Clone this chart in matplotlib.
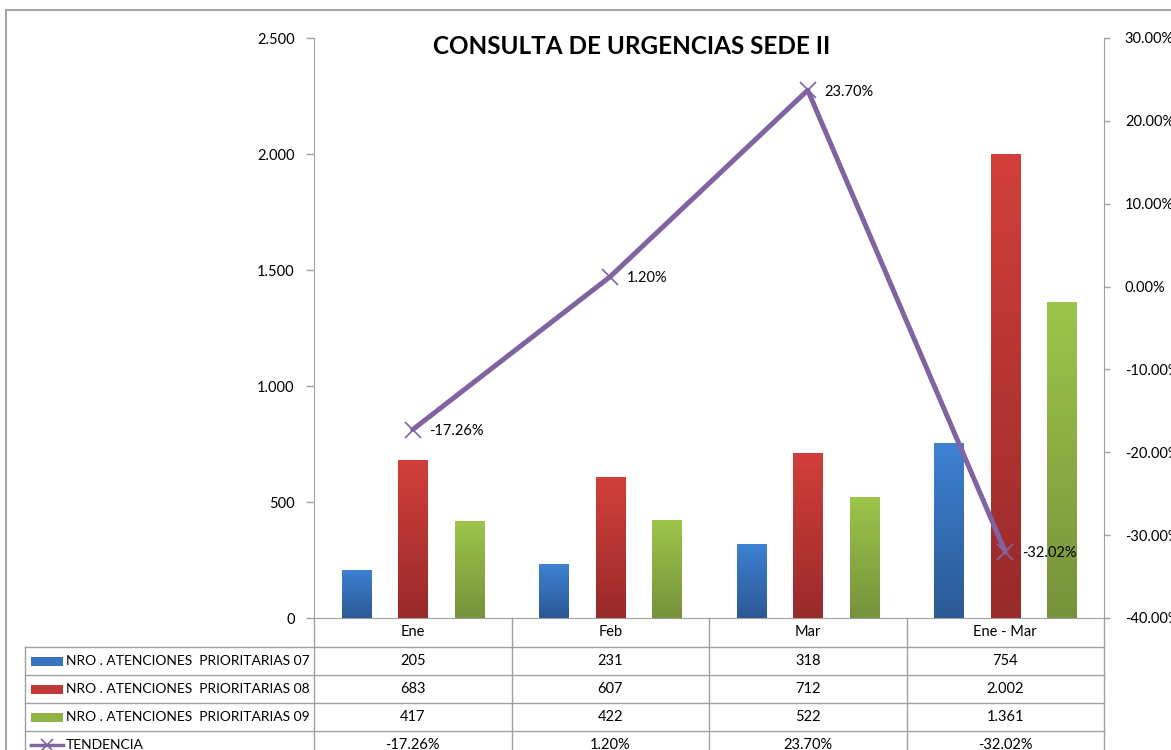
import matplotlib
matplotlib.use("Agg")
import matplotlib.pyplot as plt
import numpy as np
from matplotlib.colors import LinearSegmentedColormap
from matplotlib.transforms import blended_transform_factory
from matplotlib.lines import Line2D
from matplotlib.patches import Rectangle

plt.rcParams['font.family'] = ['Lato', 'DejaVu Sans']

# ---- data ----
categories = ["Ene", "Feb", "Mar", "Ene - Mar"]
series_names = ["NRO . ATENCIONES  PRIORITARIAS 07",
                "NRO . ATENCIONES  PRIORITARIAS 08",
                "NRO . ATENCIONES  PRIORITARIAS 09"]
prior07 = [205, 231, 318, 754]
prior08 = [683, 607, 712, 2002]
prior09 = [417, 422, 522, 1361]
tendencia = [-17.26, 1.20, 23.70, -32.02]
trend_name = "TENDENCIA"
left_ticks = [0, 500, 1000, 1500, 2000, 2500]
right_ticks = [-40, -30, -20, -10, 0, 10, 20, 30]
title = "CONSULTA DE URGENCIAS SEDE II"

# ---- styles ----
grad_colors = [("#2b5995", "#3e81d3"), ("#982a2a", "#d23f3b"), ("#76923b", "#9ec54b")]
key_colors = ["#3a72bd", "#bf3a37", "#8db444"]
line_color = "#8064a2"
grid_gray = "#a0a0a0"
W, H = 1171, 750
FS = 10.5

fig = plt.figure(figsize=(W / 100, H / 100), dpi=100)
ax = fig.add_axes([314 / W, 1 - 618 / H, 790 / W, 580 / H])
ax2 = ax.twinx()

def fmt_int(v):
    return f"{v:,}".replace(",", ".")

x = np.arange(len(categories))
offsets = [-0.286, 0.0, 0.286]
bw = 0.148
all_series = [prior07, prior08, prior09]
grad = np.linspace(0, 1, 256).reshape(-1, 1)
for vals, off, (c0, c1) in zip(all_series, offsets, grad_colors):
    cmap = LinearSegmentedColormap.from_list("g", [c0, c1])
    bars = ax.bar(x + off, vals, width=bw, color=c1, zorder=2, linewidth=0)
    for b in bars:
        x0, w, h = b.get_x(), b.get_width(), b.get_height()
        im = ax.imshow(grad, cmap=cmap, extent=[x0, x0 + w, 0, h], origin="lower",
                       aspect="auto", zorder=2.5)
        im.set_clip_path(b)

ax.set_xlim(-0.5, len(categories) - 0.5)
ax.set_ylim(0, 2500)
ax.set_yticks(left_ticks)
ax.set_yticklabels([fmt_int(v) for v in left_ticks])
ax.set_xticks([])
for s in ["top", "right"]:
    ax.spines[s].set_visible(False)
ax.spines["left"].set_color(grid_gray)
ax.spines["bottom"].set_color(grid_gray)
ax.tick_params(axis="y", colors=grid_gray, labelcolor="black", labelsize=FS,
               length=6, pad=8, width=1)

# trend line
ax2.plot(x, np.array(tendencia) / 100, color=line_color, lw=3.6, marker="x",
         markersize=11, markeredgewidth=1.2, zorder=5, solid_capstyle="round")
for xi, v in zip(x, tendencia):
    ax2.annotate(f"{v:.2f}%", (xi, v / 100), xytext=(12, -1), textcoords="offset points",
                 ha="left", va="center", fontsize=FS)
ax2.set_ylim(-0.40, 0.30)
ax2.set_yticks([t / 100 for t in right_ticks])
ax2.set_yticklabels([f"{t:.2f}%" for t in right_ticks])
for s in ["top", "left", "bottom"]:
    ax2.spines[s].set_visible(False)
ax2.spines["right"].set_color(grid_gray)
ax2.tick_params(axis="y", colors=grid_gray, labelcolor="black", labelsize=FS,
                length=4, pad=11, width=1)
ax.set_zorder(1)
ax2.set_zorder(2)
ax2.patch.set_visible(False)

# ---- data table ----
tr = blended_transform_factory(ax.transData, ax.transAxes)
ph = 580.0
row_edges_px = [0, 29, 57, 85, 113, 141]
row_edges = [-p / ph for p in row_edges_px]
xl = -0.5
xr = len(categories) - 0.5
leg_left = (25 - 314) / 790.0
lkw = dict(color=grid_gray, lw=1.0, clip_on=False)
for ye in row_edges[1:]:
    ax.add_line(Line2D([xl, xr], [ye, ye], transform=tr, **lkw))
    ax.add_line(Line2D([leg_left, 0], [ye, ye], transform=ax.transAxes, **lkw))
for xe in np.arange(len(categories) + 1) - 0.5:
    ax.add_line(Line2D([xe, xe], [0, row_edges[-1]], transform=tr, **lkw))
ax.add_line(Line2D([leg_left, leg_left], [row_edges[1], row_edges[-1]],
                   transform=ax.transAxes, **lkw))

for xi, c in zip(x, categories):
    ax.text(xi, (row_edges[0] + row_edges[1]) / 2, c, transform=tr, ha="center",
            va="center", fontsize=FS, clip_on=False)
row_texts = [[fmt_int(v) for v in s] for s in all_series] + [[f"{v:.2f}%" for v in tendencia]]
row_labels = series_names + [trend_name]
for r, (vals, lab) in enumerate(zip(row_texts, row_labels)):
    yc = (row_edges[r + 1] + row_edges[r + 2]) / 2
    for xi, t in zip(x, vals):
        ax.text(xi, yc, t, transform=tr, ha="center", va="center", fontsize=FS,
                clip_on=False)
    ax.text((66 - 314) / 790.0, yc, lab, transform=ax.transAxes, ha="left",
            va="center", fontsize=10.0, clip_on=False)
    kx0 = (31 - 314) / 790.0
    kx1 = (63 - 314) / 790.0
    if r < 3:
        kh = 9 / ph
        ax.add_patch(Rectangle((kx0, yc - kh / 2), kx1 - kx0, kh, transform=ax.transAxes,
                               facecolor=key_colors[r], edgecolor="none", clip_on=False))
    else:
        ax.add_line(Line2D([kx0, kx1], [yc, yc], transform=ax.transAxes, color=line_color,
                           lw=2.5, clip_on=False))
        ax.add_line(Line2D([(kx0 + kx1) / 2], [yc], transform=ax.transAxes, color=line_color,
                           marker="x", markersize=9, markeredgewidth=1.2, lw=0, clip_on=False))

fig.text(632 / W, 1 - 46 / H, title, ha="center", va="center", fontsize=17.5,
         fontweight="bold")

fig.add_artist(Line2D([6 / W, 1], [1 - 10 / H, 1 - 10 / H], transform=fig.transFigure,
                      color="#a6a6a6", lw=1.5))
fig.add_artist(Line2D([6 / W, 6 / W], [0, 1 - 10 / H], transform=fig.transFigure,
                      color="#a6a6a6", lw=1.5))

fig.savefig("out.png", dpi=100)
